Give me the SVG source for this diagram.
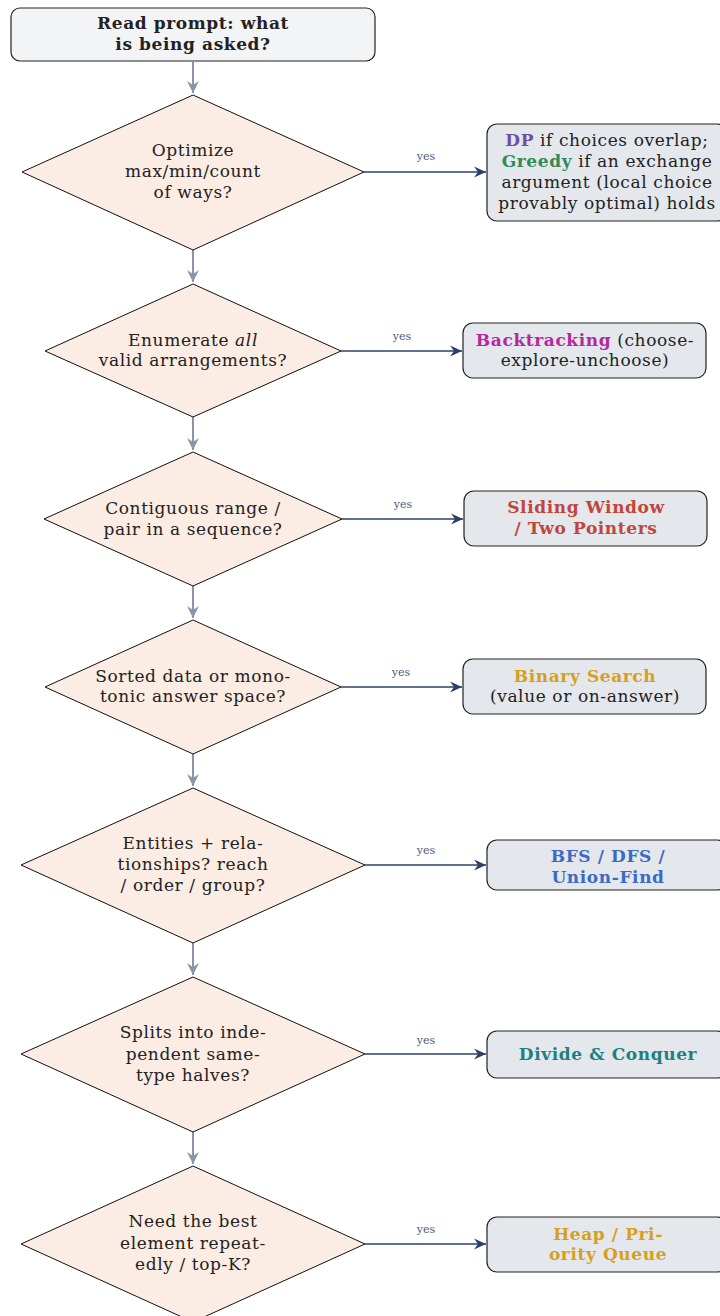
<svg xmlns="http://www.w3.org/2000/svg" width="720" height="1316" viewBox="0 0 720 1316">
<defs>
<style>
.t{font-family:"DejaVu Serif","Liberation Serif",serif;font-size:17px;letter-spacing:0.6px;fill:#222;text-anchor:middle}
.b{font-weight:bold}
.y{font-family:"DejaVu Serif","Liberation Serif",serif;font-size:11px;fill:#4a5a80;text-anchor:middle}
.dia{fill:#fbece4;stroke:#111;stroke-width:1}
.box{fill:#e4e7ec;stroke:#222;stroke-width:1.2}
.vc{stroke:#8a96a8;stroke-width:2;fill:none}
.hc{stroke:#2c4066;stroke-width:1.3;fill:none}
.cdp{fill:#6f50a0}
.cgr{fill:#2e8b57}
.cbt{fill:#b5289f}
.csw{fill:#c0463a}
.cbs{fill:#d4a020}
.cgf{fill:#3b6bc4}
.cdc{fill:#1f8080}
</style>
<marker id="ag" markerUnits="userSpaceOnUse" markerWidth="14" markerHeight="14" refX="12" refY="7" orient="auto">
<path d="M0,1 L12,7 L0,13 L4,7 z" fill="#8a96a8"/>
</marker>
<marker id="an" markerUnits="userSpaceOnUse" markerWidth="14" markerHeight="12" refX="12" refY="6" orient="auto">
<path d="M0,0.5 L12,6 L0,11.5 L4,6 z" fill="#2c4066"/>
</marker>
</defs>
<rect width="720" height="1316" fill="#fff"/>
<g id="connectors">
<line class="vc" x1="193" y1="62" x2="193" y2="93" marker-end="url(#ag)"/>
<line class="vc" x1="193" y1="250" x2="193" y2="282" marker-end="url(#ag)"/>
<line class="vc" x1="193" y1="417" x2="193" y2="450" marker-end="url(#ag)"/>
<line class="vc" x1="193" y1="586" x2="193" y2="618" marker-end="url(#ag)"/>
<line class="vc" x1="193" y1="754" x2="193" y2="786" marker-end="url(#ag)"/>
<line class="vc" x1="193" y1="943" x2="193" y2="975" marker-end="url(#ag)"/>
<line class="vc" x1="193" y1="1132" x2="193" y2="1164" marker-end="url(#ag)"/>
<line class="hc" x1="364" y1="172" x2="486" y2="172" marker-end="url(#an)"/>
<text class="y" x="426" y="160">yes</text>
<line class="hc" x1="341" y1="351" x2="462" y2="351" marker-end="url(#an)"/>
<text class="y" x="402" y="340">yes</text>
<line class="hc" x1="342" y1="519" x2="463" y2="519" marker-end="url(#an)"/>
<text class="y" x="403" y="508">yes</text>
<line class="hc" x1="341" y1="687" x2="462" y2="687" marker-end="url(#an)"/>
<text class="y" x="401" y="676">yes</text>
<line class="hc" x1="365" y1="865" x2="486" y2="865" marker-end="url(#an)"/>
<text class="y" x="426" y="854">yes</text>
<line class="hc" x1="365" y1="1054" x2="486" y2="1054" marker-end="url(#an)"/>
<text class="y" x="426" y="1044">yes</text>
<line class="hc" x1="365" y1="1244" x2="486" y2="1244" marker-end="url(#an)"/>
<text class="y" x="426" y="1233">yes</text>
</g>
<g id="start">
<rect x="11" y="8" width="364" height="53" rx="9" fill="#f3f4f6" stroke="#222" stroke-width="1.2"/>
<text class="t b" x="193" y="29">Read prompt: what</text>
<text class="t b" x="193" y="50">is being asked?</text>
</g>
<g id="q1">
<polygon class="dia" points="193,95 364,172 193,250 22,172"/>
<text class="t" x="193" y="156">Optimize</text>
<text class="t" x="193" y="177">max/min/count</text>
<text class="t" x="193" y="198">of ways?</text>
</g>
<g id="a1">
<rect class="box" x="487" y="124" width="240" height="97" rx="10"/>
<text class="t" x="607" y="146"><tspan class="b cdp">DP</tspan> if choices overlap;</text>
<text class="t" x="607" y="167"><tspan class="b cgr">Greedy</tspan> if an exchange</text>
<text class="t" x="607" y="188">argument (local choice</text>
<text class="t" x="607" y="209">provably optimal) holds</text>
</g>
<g id="q2">
<polygon class="dia" points="193,284 341,351 193,417 45,351"/>
<text class="t" x="193" y="346">Enumerate <tspan font-style="italic">all</tspan></text>
<text class="t" x="193" y="366">valid arrangements?</text>
</g>
<g id="a2">
<rect class="box" x="463" y="323" width="243" height="55" rx="10"/>
<text class="t" x="585" y="346"><tspan class="b cbt">Backtracking</tspan> (choose-</text>
<text class="t" x="585" y="366">explore-unchoose)</text>
</g>
<g id="q3">
<polygon class="dia" points="193,452 342,519 193,586 44,519"/>
<text class="t" x="193" y="514">Contiguous range /</text>
<text class="t" x="193" y="535">pair in a sequence?</text>
</g>
<g id="a3">
<rect class="box" x="464" y="491" width="243" height="55" rx="10"/>
<text class="t b csw" x="586" y="513">Sliding Window</text>
<text class="t b csw" x="586" y="534">/ Two Pointers</text>
</g>
<g id="q4">
<polygon class="dia" points="193,620 341,687 193,754 45,687"/>
<text class="t" x="193" y="682">Sorted data or mono-</text>
<text class="t" x="193" y="702">tonic answer space?</text>
</g>
<g id="a4">
<rect class="box" x="463" y="659" width="243" height="55" rx="10"/>
<text class="t b cbs" x="585" y="682">Binary Search</text>
<text class="t" x="585" y="702">(value or on-answer)</text>
</g>
<g id="q5">
<polygon class="dia" points="193,788 365,865 193,943 21,865"/>
<text class="t" x="193" y="849">Entities + rela-</text>
<text class="t" x="193" y="870">tionships? reach</text>
<text class="t" x="193" y="891">/ order / group?</text>
</g>
<g id="a5">
<rect class="box" x="487" y="840" width="240" height="50" rx="10"/>
<text class="t b cgf" x="608" y="862">BFS / DFS /</text>
<text class="t b cgf" x="608" y="883">Union-Find</text>
</g>
<g id="q6">
<polygon class="dia" points="193,977 365,1054 193,1132 21,1054"/>
<text class="t" x="193" y="1038">Splits into inde-</text>
<text class="t" x="193" y="1060">pendent same-</text>
<text class="t" x="193" y="1081">type halves?</text>
</g>
<g id="a6">
<rect class="box" x="487" y="1031" width="240" height="47" rx="10"/>
<text class="t b cdc" x="608" y="1060">Divide &amp; Conquer</text>
</g>
<g id="q7">
<polygon class="dia" points="193,1166 365,1244 193,1322 21,1244"/>
<text class="t" x="193" y="1227">Need the best</text>
<text class="t" x="193" y="1249">element repeat-</text>
<text class="t" x="193" y="1270">edly / top-K?</text>
</g>
<g id="a7">
<rect class="box" x="487" y="1217" width="240" height="55" rx="10"/>
<text class="t b cbs" x="608" y="1240">Heap / Pri-</text>
<text class="t b cbs" x="608" y="1260">ority Queue</text>
</g>
</svg>
